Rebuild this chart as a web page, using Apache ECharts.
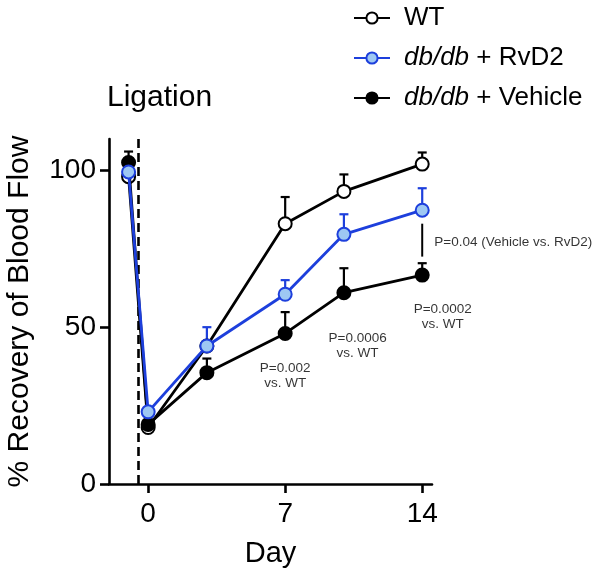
<!DOCTYPE html>
<html>
<head>
<meta charset="utf-8">
<script src="https://cdn.jsdelivr.net/npm/echarts@6/dist/echarts.min.js"></script>
<style>html,body{margin:0;padding:0;background:#fff}#c{width:600px;height:574px}</style>
</head>
<body>
<div id="c"></div>
<script>
// ---- data ----
const days = [-1, 0, 3, 7, 10, 14];
const wtMean = [98, 18, 44, 83, 93.3, 102];
const wtTop = [98, 18, 44, 91.5, 98.7, 105.7];
const rvd2Mean = [99.5, 23, 44, 60.5, 79.6, 87.3];
const rvd2Top = [103, 23, 50, 65, 86, 94.3];
const vehMean = [102.5, 19, 35.5, 48, 61, 66.6];
const vehTop = [106, 19, 40, 54.8, 68.8, 70.4];
const seriesNames = ['WT', 'db/db + RvD2', 'db/db + Vehicle'];
const xTicks = [0, 7, 14];
const yTicks = [0, 50, 100];
const ligationDay = -0.5;
const bracketDay = 14;
const bracketRange = [72.5, 83];
const annoX = [7, 10.7, 15.05, 14.62];
const annoY = [34.6, 44.1, 53.2, 77.1];
const annoText = ['P=0.002\nvs. WT', 'P=0.0006\nvs. WT', 'P=0.0002\nvs. WT', 'P=0.04 (Vehicle vs. RvD2)'];

const FONT = '"Liberation Sans", Arial, Helvetica, sans-serif';
const BLUE = '#1d3fdc';
const LIGHTBLUE = '#9ec8f3';

function pairs(xs, ys) { return xs.map((x, i) => [x, ys[i]]); }
function errData(xs, ys, tops) { return xs.map((x, i) => [x, ys[i], tops[i]]); }

function errRender(color) {
  return function (params, api) {
    const x = api.value(0), y = api.value(1), t = api.value(2);
    if (!(t > y)) return null;
    const p0 = api.coord([x, y]);
    const p1 = api.coord([x, t]);
    const hw = 4.5;
    return {
      type: 'group',
      children: [
        { type: 'line', shape: { x1: p0[0], y1: p0[1], x2: p1[0], y2: p1[1] }, style: { stroke: color, lineWidth: 2.2 } },
        { type: 'line', shape: { x1: p1[0] - hw, y1: p1[1], x2: p1[0] + hw, y2: p1[1] }, style: { stroke: color, lineWidth: 2.2 } }
      ]
    };
  };
}

const chart = echarts.init(document.getElementById('c'), null, { renderer: 'canvas' });

const axisCommon = {
  axisLine: { show: true, onZero: false, lineStyle: { color: '#000', width: 2.6 } },
  splitLine: { show: false },
};

const option = {
  backgroundColor: '#fff',
  animation: false,
  textStyle: { fontFamily: FONT },
  grid: { left: 109, right: 168, top: 139, bottom: 90, containLabel: false, outerBoundsMode: 'none' },
  graphic: [
    { type: 'text', left: 107, top: 83, style: { text: 'Ligation', fontSize: 30, fontFamily: FONT, fill: '#000' } }
  ],
  legend: {
    data: seriesNames,
    orient: 'vertical',
    left: 348,
    top: 0,
    itemWidth: 36,
    itemHeight: 14,
    itemGap: 14,
    selectedMode: false,
    formatter: function (name) { return name.replace('db/db', '{i|db/db}'); },
    textStyle: {
      color: '#000', fontSize: 26, fontFamily: FONT, padding: [0, 0, 0, 9],
      rich: { i: { fontStyle: 'italic', fontSize: 26, fontFamily: FONT, color: '#000' } }
    }
  },
  xAxis: Object.assign({}, axisCommon, {
    type: 'value', min: -2, max: 14.5,
    name: 'Day', nameLocation: 'middle', nameGap: 55,
    nameTextStyle: { color: '#000', fontSize: 29, fontFamily: FONT },
    axisTick: { show: true, length: 9, customValues: xTicks, lineStyle: { color: '#000', width: 2.6 } },
    axisLabel: { customValues: xTicks, color: '#000', fontSize: 28, fontFamily: FONT, margin: 16 },
  }),
  yAxis: Object.assign({}, axisCommon, {
    type: 'value', min: 0, max: 110,
    name: '% Recovery of Blood Flow', nameLocation: 'middle', nameGap: 74,
    nameTextStyle: { color: '#000', fontSize: 30, fontFamily: FONT },
    axisTick: { show: true, length: 9, customValues: yTicks, lineStyle: { color: '#000', width: 2.6 } },
    axisLabel: { customValues: yTicks, color: '#000', fontSize: 28, fontFamily: FONT, margin: 13 },
  }),
  series: [
    {
      name: 'ligation', type: 'line', data: [], silent: true,
      markLine: {
        symbol: 'none', silent: true, animation: false,
        label: { show: false },
        lineStyle: { color: '#000', width: 2.6, type: [9, 5] },
        data: [{ xAxis: ligationDay }]
      }, z: 1
    },
    { type: 'custom', name: 'wtErr', renderItem: errRender('#000'), data: errData(days, wtMean, wtTop), encode: { x: 0, y: [1, 2] }, z: 2, clip: false },
    { type: 'custom', name: 'vehErr', renderItem: errRender('#000'), data: errData(days, vehMean, vehTop), encode: { x: 0, y: [1, 2] }, z: 2, clip: false },
    { type: 'custom', name: 'rvd2Err', renderItem: errRender(BLUE), data: errData(days, rvd2Mean, rvd2Top), encode: { x: 0, y: [1, 2] }, z: 2, clip: false },
    {
      name: seriesNames[0], type: 'line', data: pairs(days, wtMean), z: 3,
      symbol: 'circle', symbolSize: 13, showAllSymbol: true,
      lineStyle: { color: '#000', width: 2.8 },
      itemStyle: { color: '#fff', borderColor: '#000', borderWidth: 2 },
      clip: false
    },
    {
      name: seriesNames[2], type: 'line', data: pairs(days, vehMean), z: 4,
      symbol: 'circle', symbolSize: 13, showAllSymbol: true,
      lineStyle: { color: '#000', width: 2.8 },
      itemStyle: { color: '#000', borderColor: '#000', borderWidth: 2 },
      clip: false
    },
    {
      name: seriesNames[1], type: 'line', data: pairs(days, rvd2Mean), z: 5,
      symbol: 'circle', symbolSize: 13, showAllSymbol: true,
      lineStyle: { color: BLUE, width: 2.8 },
      itemStyle: { color: LIGHTBLUE, borderColor: BLUE, borderWidth: 2 },
      clip: false
    },
    {
      name: 'bracket', type: 'line', data: [[bracketDay, bracketRange[0]], [bracketDay, bracketRange[1]]],
      symbol: 'none', lineStyle: { color: '#000', width: 2 }, z: 3, silent: true
    },
    {
      name: 'annotations', type: 'scatter', symbolSize: 0, clip: false, silent: true, z: 6,
      data: annoX.map((x, i) => ({
        value: [x, annoY[i]], name: annoText[i],
        label: i === 3 ? { position: 'inside', align: 'left' } : { position: 'inside', align: 'center' }
      })),
      label: {
        show: true, formatter: p => p.name, color: '#000', fontSize: 13.5, lineHeight: 15, fontFamily: FONT
      }
    }
  ]
};
chart.setOption(option);
</script>
</body>
</html>
